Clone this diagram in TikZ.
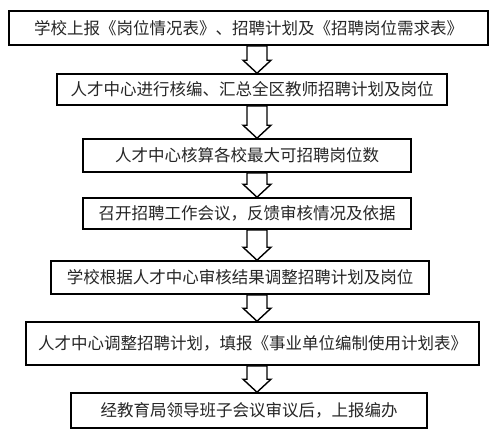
\documentclass[tikz,border=0pt]{standalone}
\usepackage{fontspec}
\setmainfont{Noto Sans CJK SC}
\usetikzlibrary{calc}
\tikzset{
  box/.style={draw=black, line width=1.6pt, inner sep=0pt, font=\fontsize{16.5}{17}\selectfont, text=black!85},
  barrow/.style={draw=black, line width=1.4pt, fill=white, line join=miter},
}
\newcommand\flowarrow[2]{%
  \draw[barrow] let \p1=(#1.south), \p2=(#2.north) in
    (247pt,\y1) -- (267pt,\y1) -- (267pt,\y2+13pt) -- (271pt,\y2+13pt) --
    (257pt,\y2) -- (243pt,\y2+13pt) -- (247pt,\y2+13pt) -- cycle;}
\begin{document}
\begin{tikzpicture}[x=1pt,y=-1pt]
\useasboundingbox[fill=white] (0,0) rectangle (497,437);
\node[box, minimum width=479pt, minimum height=34pt] (b1) at (248.5,28) {学校上报《岗位情况表》、招聘计划及《招聘岗位需求表》};
\node[box, minimum width=390pt, minimum height=31pt] (b2) at (252,89.5) {人才中心进行核编、汇总全区教师招聘计划及岗位};
\node[box, minimum width=328pt, minimum height=33pt] (b3) at (247,155.5) {人才中心核算各校最大可招聘岗位数};
\node[box, minimum width=328pt, minimum height=31pt] (b4) at (247,213.5) {召开招聘工作会议，反馈审核情况及依据};
\node[box, minimum width=378pt, minimum height=33pt] (b5) at (240,277.5) {学校根据人才中心审核结果调整招聘计划及岗位};
\node[box, minimum width=453pt, minimum height=43pt] (b6) at (252.5,343.5) {人才中心调整招聘计划，填报《事业单位编制使用计划表》};
\node[box, minimum width=356pt, minimum height=35pt] (b7) at (249,410.5) {经教育局领导班子会议审议后，上报编办};
\flowarrow{b1}{b2}
\flowarrow{b2}{b3}
\flowarrow{b3}{b4}
\flowarrow{b4}{b5}
\flowarrow{b5}{b6}
\flowarrow{b6}{b7}
\end{tikzpicture}
\end{document}
